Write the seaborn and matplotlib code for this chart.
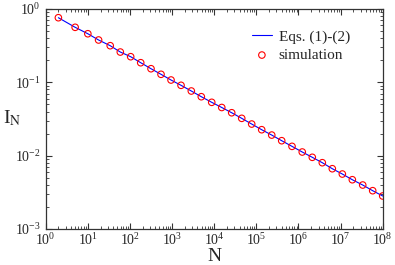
import matplotlib
matplotlib.use("Agg")
import matplotlib.pyplot as plt
import matplotlib.ticker as mticker
import pandas as pd
import seaborn as sns

# values
n_values = [2, 5, 10, 18, 34, 59, 104, 180, 316, 546, 944, 1630, 2860, 4940,
            8730, 15100, 26000, 45000, 77600, 134000, 232000, 400000, 703000,
            1.23e6, 2.13e6, 3.68e6, 6.36e6, 1.10e7, 1.90e7, 3.35e7, 5.78e7, 1.0e8]
i_sim = [0.761, 0.563, 0.460, 0.378, 0.316, 0.259, 0.2237, 0.1852, 0.1534,
         0.1287, 0.1076, 0.0911, 0.0762, 0.0637, 0.0534, 0.0454, 0.0385,
         0.0323, 0.0270, 0.0226, 0.0191, 0.0160, 0.0134, 0.01122, 0.00950,
         0.00802, 0.00664, 0.00562, 0.00470, 0.00398, 0.00333, 0.00282]
i_eqs = i_sim

x_ticks = [10.0 ** k for k in range(0, 9)]
y_ticks = [10.0 ** k for k in range(-3, 1)]

sns.set_theme(style="ticks")
plt.rcParams["font.family"] = ["Liberation Serif", "DejaVu Serif"]
plt.rcParams["mathtext.fontset"] = "stix"

df = pd.DataFrame({"N": n_values, "eqs": i_eqs, "sim": i_sim})

fig, ax = plt.subplots(figsize=(3.95, 2.65), dpi=100)
fig.subplots_adjust(left=0.1157, right=0.9689, top=0.966, bottom=0.1358)

sns.lineplot(df, x="N", y="eqs", color="#0000ff", lw=0.8, ax=ax, label="Eqs. (1)-(2)")
sns.scatterplot(df, x="N", y="sim", marker="o", s=22, color="red",
                facecolor="none", edgecolor="red", linewidth=0.8, ax=ax,
                label="simulation", zorder=3)

ax.set_xscale("log")
ax.set_yscale("log")
ax.set_xlim(1, 1e8)
ax.set_ylim(1e-3, 1)
ax.xaxis.set_major_locator(mticker.FixedLocator(x_ticks))
ax.yaxis.set_major_locator(mticker.FixedLocator(y_ticks))
ax.xaxis.set_major_formatter(mticker.LogFormatterSciNotation())
ax.yaxis.set_major_formatter(mticker.LogFormatterSciNotation())
ax.xaxis.set_minor_locator(mticker.LogLocator(base=10, subs=range(2, 10), numticks=100))
ax.yaxis.set_minor_locator(mticker.LogLocator(base=10, subs=range(2, 10), numticks=100))
ax.xaxis.set_minor_formatter(mticker.NullFormatter())
ax.yaxis.set_minor_formatter(mticker.NullFormatter())

ax.tick_params(which="both", direction="in", top=True, right=True,
               color="#333333", labelsize=10)
ax.tick_params(which="major", length=4, width=0.8)
ax.tick_params(which="minor", length=2.2, width=0.6)
ax.tick_params(axis="x", which="major", pad=2.5)
ax.tick_params(axis="y", which="major", pad=3.5)
for sp in ax.spines.values():
    sp.set_color("#333333")
    sp.set_linewidth(0.9)

ax.set_xlabel("N", fontsize=14, labelpad=0)
ax.set_ylabel(r"I$_{\rm N}$", fontsize=14, rotation=0, labelpad=0)
ax.yaxis.set_label_coords(-0.1, 0.46)

ax.legend(loc="upper left", bbox_to_anchor=(0.612, 0.905), frameon=False,
          fontsize=11, handlelength=1.3, handletextpad=0.45, labelspacing=0.3,
          borderpad=0, borderaxespad=0)

fig.savefig("out.png", dpi=100)
